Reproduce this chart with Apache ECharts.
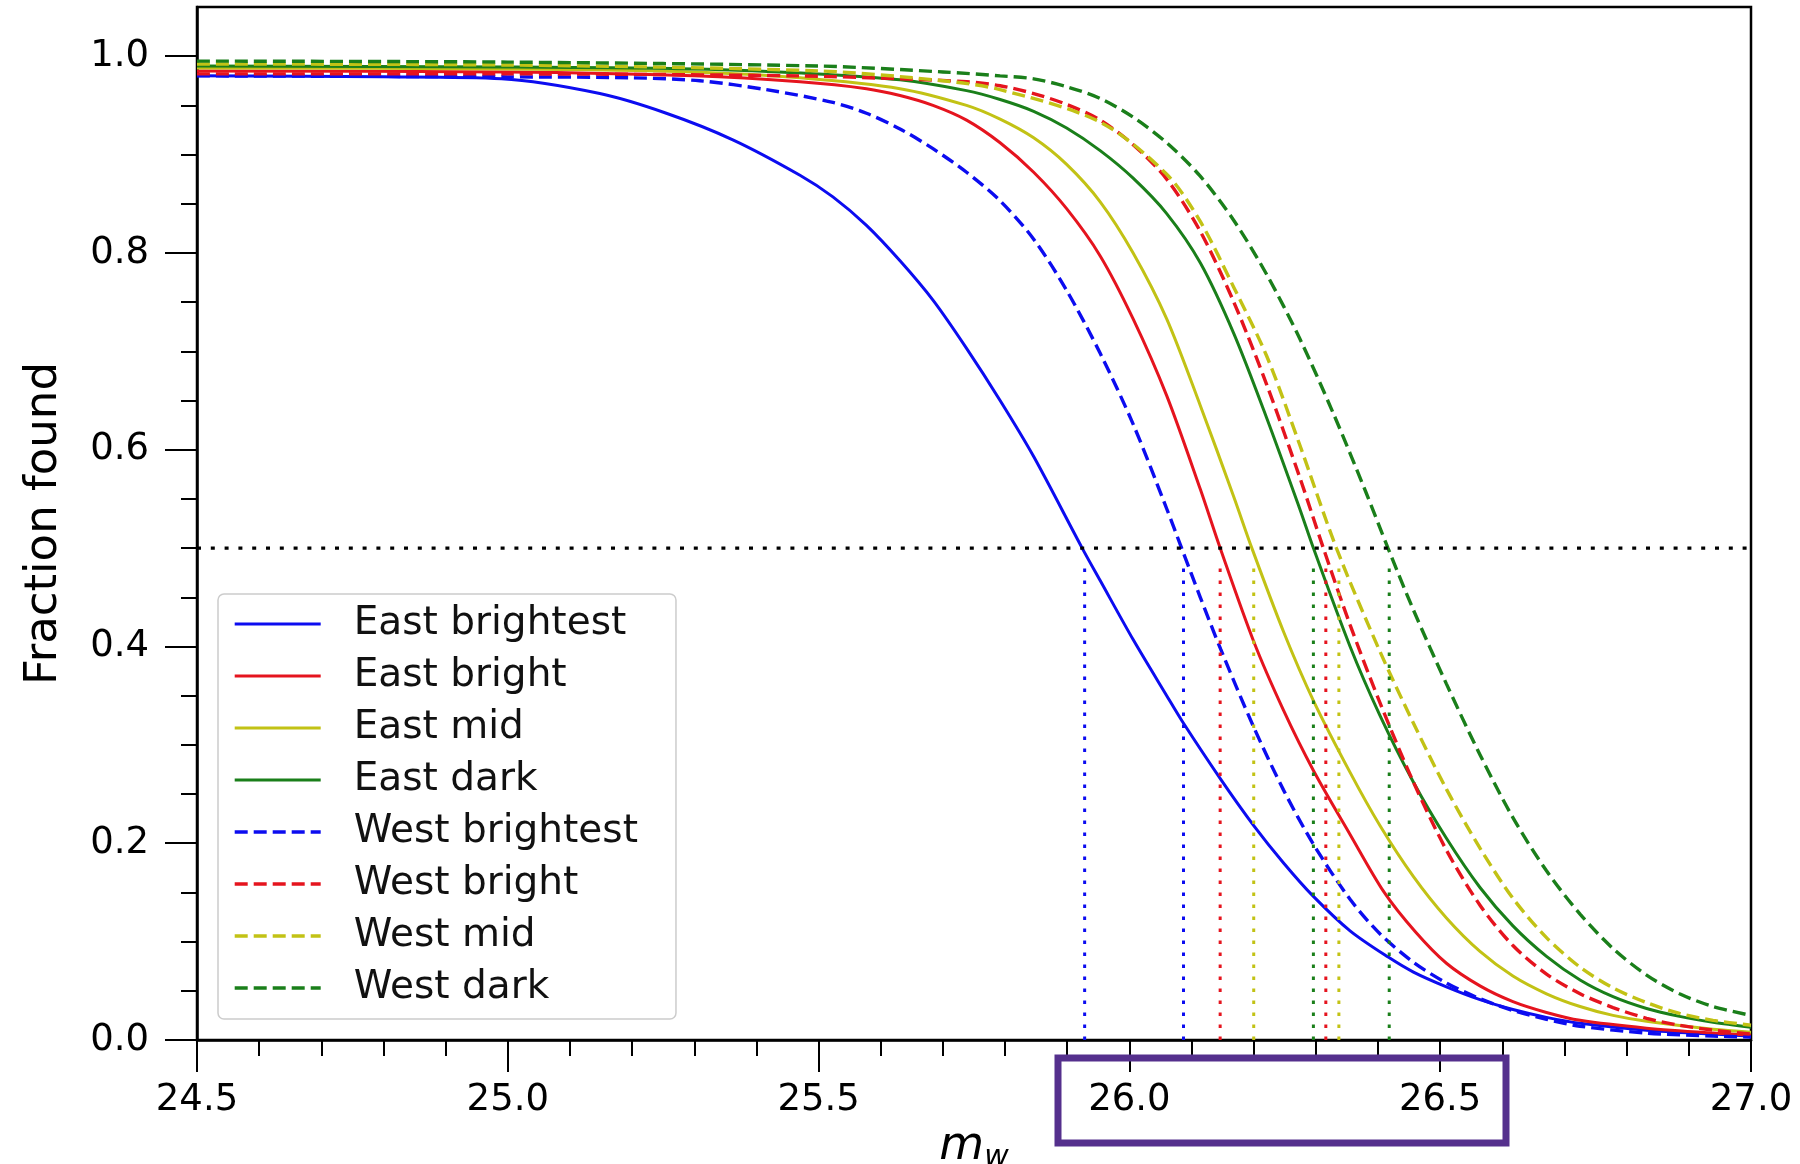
<!DOCTYPE html>
<html>
<head>
<meta charset="utf-8">
<script src="https://cdn.jsdelivr.net/npm/echarts@6/dist/echarts.min.js"></script>
<style>html,body{margin:0;padding:0;background:#fff}#c{width:1800px;height:1164px}</style>
</head>
<body>
<div id="c"></div>
<script>
// ---------- data ----------
const seriesNames = ['East brightest','East bright','East mid','East dark','West brightest','West bright','West mid','West dark'];
const seriesColors = ['#0c0cf0','#e5141e','#c2c215','#1a7f1a','#0c0cf0','#e5141e','#c2c215','#1a7f1a'];
const seriesDashed = [false,false,false,false,true,true,true,true];

const eastBrightest = [[24.5,0.980],[24.8,0.979],[24.99,0.977],[25.148,0.962],[25.255,0.942],[25.362,0.915],[25.47,0.879],[25.523,0.857],[25.577,0.828],[25.631,0.792],[25.684,0.752],[25.738,0.703],[25.792,0.650],[25.846,0.593],[25.924,0.5],[25.953,0.467],[26.006,0.407],[26.06,0.350],[26.086,0.323],[26.147,0.265],[26.2,0.218],[26.248,0.180],[26.296,0.146],[26.355,0.111],[26.417,0.084],[26.457,0.069],[26.51,0.054],[26.564,0.041],[26.617,0.031],[26.671,0.023],[26.725,0.017],[26.832,0.010],[26.939,0.006],[27.0,0.004]];
const eastBright = [[24.5,0.985],[25.0,0.984],[25.3,0.980],[25.47,0.974],[25.577,0.967],[25.631,0.960],[25.684,0.950],[25.738,0.935],[25.792,0.912],[25.846,0.882],[25.899,0.845],[25.953,0.797],[26.006,0.733],[26.06,0.655],[26.114,0.560],[26.146,0.5],[26.2,0.405],[26.248,0.335],[26.296,0.274],[26.355,0.209],[26.41,0.150],[26.46,0.110],[26.51,0.078],[26.564,0.055],[26.617,0.039],[26.671,0.028],[26.725,0.020],[26.832,0.012],[26.939,0.007],[27.0,0.005]];
const eastMid = [[24.5,0.988],[25.0,0.987],[25.3,0.984],[25.47,0.978],[25.631,0.967],[25.738,0.950],[25.792,0.936],[25.846,0.917],[25.899,0.890],[25.953,0.852],[26.006,0.800],[26.06,0.733],[26.114,0.645],[26.168,0.552],[26.197,0.5],[26.248,0.415],[26.296,0.345],[26.355,0.272],[26.403,0.218],[26.457,0.166],[26.51,0.124],[26.564,0.090],[26.617,0.065],[26.671,0.047],[26.725,0.034],[26.778,0.025],[26.832,0.019],[26.939,0.011],[27.0,0.008]];
const eastDark = [[24.5,0.990],[25.0,0.989],[25.3,0.987],[25.5,0.982],[25.631,0.976],[25.738,0.965],[25.792,0.956],[25.846,0.944],[25.899,0.927],[25.953,0.904],[26.006,0.876],[26.06,0.840],[26.114,0.790],[26.168,0.718],[26.221,0.632],[26.274,0.540],[26.296,0.5],[26.355,0.400],[26.403,0.330],[26.457,0.262],[26.51,0.205],[26.564,0.155],[26.617,0.116],[26.671,0.085],[26.725,0.061],[26.778,0.044],[26.832,0.032],[26.885,0.024],[26.939,0.018],[27.0,0.013]];
const westBrightest = [[24.5,0.980],[25.0,0.979],[25.201,0.978],[25.309,0.975],[25.416,0.966],[25.523,0.953],[25.577,0.942],[25.631,0.926],[25.684,0.906],[25.738,0.882],[25.792,0.853],[25.846,0.814],[25.899,0.762],[25.953,0.698],[26.006,0.626],[26.06,0.540],[26.084,0.5],[26.114,0.450],[26.147,0.397],[26.2,0.318],[26.248,0.254],[26.296,0.199],[26.355,0.143],[26.403,0.108],[26.457,0.079],[26.51,0.058],[26.564,0.042],[26.617,0.030],[26.671,0.021],[26.725,0.014],[26.832,0.007],[26.939,0.004],[27.0,0.003]];
const westBright = [[24.5,0.982],[25.0,0.982],[25.47,0.980],[25.631,0.977],[25.738,0.974],[25.792,0.970],[25.846,0.962],[25.899,0.951],[25.953,0.935],[26.006,0.910],[26.06,0.875],[26.114,0.822],[26.168,0.750],[26.221,0.666],[26.274,0.572],[26.312,0.5],[26.355,0.422],[26.403,0.343],[26.457,0.262],[26.51,0.193],[26.564,0.137],[26.617,0.096],[26.671,0.067],[26.725,0.047],[26.778,0.033],[26.832,0.022],[26.885,0.015],[26.939,0.010],[27.0,0.006]];
const westMid = [[24.5,0.992],[25.0,0.991],[25.5,0.985],[25.7,0.975],[25.792,0.966],[25.953,0.933],[26.06,0.880],[26.114,0.832],[26.168,0.765],[26.221,0.695],[26.274,0.605],[26.333,0.5],[26.403,0.395],[26.457,0.322],[26.51,0.255],[26.564,0.195],[26.617,0.144],[26.671,0.104],[26.725,0.074],[26.778,0.053],[26.832,0.038],[26.885,0.027],[26.939,0.020],[27.0,0.015]];
const westDark = [[24.5,0.995],[25.0,0.994],[25.5,0.990],[25.7,0.984],[25.792,0.980],[25.846,0.977],[25.899,0.969],[25.953,0.957],[26.006,0.938],[26.06,0.912],[26.114,0.878],[26.168,0.833],[26.221,0.778],[26.274,0.713],[26.328,0.637],[26.381,0.556],[26.416,0.5],[26.457,0.437],[26.51,0.362],[26.564,0.290],[26.617,0.226],[26.671,0.172],[26.725,0.128],[26.778,0.093],[26.832,0.066],[26.885,0.047],[26.939,0.034],[27.0,0.025]];

// magnitude where each curve reaches 50 %
const halfMags = [25.928, 26.146, 26.200, 26.296, 26.087, 26.316, 26.337, 26.418];
const halfLevel = 0.5;

const xTickLabels = [24.5, 25.0, 25.5, 26.0, 26.5, 27.0];
const yMajorTicks = [0, 0.2, 0.4, 0.6, 0.8, 1.0];
const yMinorTicks = [0.05,0.1,0.15,0.25,0.3,0.35,0.45,0.5,0.55,0.65,0.7,0.75,0.85,0.9,0.95];

// ---------- chart ----------
const FONT = 'DejaVu Sans';
const allData = [eastBrightest, eastBright, eastMid, eastDark, westBrightest, westBright, westMid, westDark];
const chart = echarts.init(document.getElementById('c'), null, {renderer: 'canvas'});

const lineW = i => seriesDashed[i] ? 3.4 : 3;
const lineT = i => seriesDashed[i] ? [13, 6] : 'solid';

const series = [];
allData.forEach((d, i) => {
  series.push({
    name: seriesNames[i], type: 'line', data: d, showSymbol: false, symbol: 'none',
    smooth: 0.3, z: 3,
    lineStyle: {color: seriesColors[i], width: lineW(i), type: lineT(i)},
    itemStyle: {color: seriesColors[i]},
    emphasis: {disabled: true}
  });
});
halfMags.forEach((m, i) => {
  series.push({
    type: 'line', data: [[m, 0], [m, halfLevel - 0.012]], showSymbol: false, symbol: 'none', z: 4,
    lineStyle: {color: seriesColors[i], width: 3, type: [3.5, 8.5]}, silent: true
  });
});
series.push({
  type: 'line', data: [[xTickLabels[0], halfLevel], [xTickLabels[xTickLabels.length-1], halfLevel]], showSymbol: false, symbol: 'none', z: 4,
  lineStyle: {color: '#000', width: 3.2, type: [4, 9.8]}, silent: true
});

const option = {
  animation: false,
  backgroundColor: '#fff',
  grid: {left: 197, right: 49, top: 7, bottom: 124, show: true, borderColor: '#000', borderWidth: 2.5, backgroundColor: 'transparent', containLabel: false, outerBoundsMode: 'none'},
  xAxis: {
    type: 'value', min: 24.5, max: 27.0, interval: 0.5,
    axisLine: {show: true, lineStyle: {color: '#000', width: 2.5}},
    axisTick: {show: true, length: 32, lineStyle: {color: '#000', width: 2}},
    minorTick: {show: true, splitNumber: 5, length: 16, lineStyle: {color: '#000', width: 2}},
    splitLine: {show: false}, minorSplitLine: {show: false},
    axisLabel: {formatter: v => v.toFixed(1), fontSize: 37, fontFamily: FONT, color: '#000', margin: 42, showMinLabel: true, showMaxLabel: true},
    name: '{m|m}{w|w}', nameLocation: 'middle', nameGap: 80,
    nameTextStyle: {rich: {
      m: {fontSize: 46, fontStyle: 'italic', fontFamily: FONT, color: '#000', lineHeight: 46},
      w: {fontSize: 30, fontStyle: 'italic', fontFamily: FONT, color: '#000', padding: [22, 0, 0, 0]}
    }}
  },
  yAxis: [{
    type: 'value', min: 0, max: 1.05,
    axisLine: {show: true, lineStyle: {color: '#000', width: 2.5}},
    axisTick: {show: true, length: 32, customValues: yMajorTicks, lineStyle: {color: '#000', width: 2}},
    splitLine: {show: false},
    axisLabel: {customValues: yMajorTicks, formatter: v => v.toFixed(1), fontSize: 37, fontFamily: FONT, color: '#000', margin: 48},
    name: 'Fraction found', nameLocation: 'middle', nameGap: 130, nameRotate: 90,
    nameTextStyle: {fontSize: 45, fontFamily: FONT, color: '#000'}
  }, {
    type: 'value', min: 0, max: 1.05, position: 'left',
    axisLine: {show: false},
    axisTick: {show: true, length: 16, customValues: yMinorTicks, lineStyle: {color: '#000', width: 2}},
    axisLabel: {show: false}, splitLine: {show: false}
  }],
  legend: {
    data: seriesNames.map((n, i) => ({
      name: n,
      itemStyle: {opacity: 0},
      lineStyle: {color: seriesColors[i], width: lineW(i), type: lineT(i)}
    })),
    orient: 'vertical', left: 218, top: 594,
    itemWidth: 86, itemHeight: 20, itemGap: 12,
    padding: [10, 38, 11, 15],
    backgroundColor: 'rgba(255,255,255,0.85)', borderColor: '#cccccc', borderWidth: 1.5, borderRadius: 6,
    textStyle: {fontSize: 39, fontFamily: FONT, color: '#111', lineHeight: 40, padding: [0, 0, 0, 28]},
    selectedMode: false
  },
  series: series,
  graphic: [{
    type: 'rect', z: 100,
    shape: {x: 1058, y: 1058, width: 448, height: 85},
    style: {fill: 'none', stroke: '#55308d', lineWidth: 7}
  }]
};
chart.setOption(option);
</script>
</body>
</html>
